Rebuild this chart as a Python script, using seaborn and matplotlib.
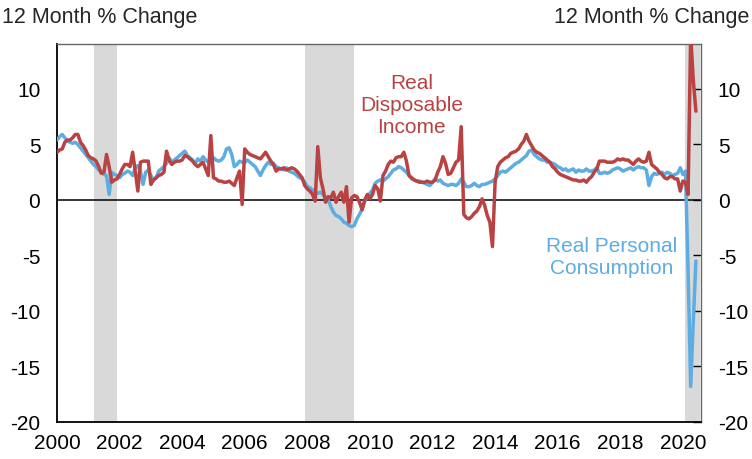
import numpy as np
import pandas as pd
import seaborn as sns
import matplotlib
matplotlib.use("Agg")
import matplotlib.pyplot as plt

# monthly, Jan 2000 .. Jun 2020, 12 month % change
consumption = [
    5.4, 5.7, 5.9, 5.6, 5.3, 5.2, 5.1, 5.2, 5.0, 4.7, 4.4, 4.1,   # 2000
    3.8, 3.5, 3.2, 3.0, 2.7, 2.5, 2.3, 2.2, 0.5, 2.5, 2.3, 2.2,   # 2001
    2.0, 2.3, 2.4, 2.6, 2.5, 2.2, 2.9, 3.1, 2.6, 1.4, 2.5, 2.7,   # 2002
    2.2, 1.8, 2.0, 2.6, 2.8, 3.0, 3.3, 3.8, 3.4, 3.6, 3.8, 4.0,   # 2003
    4.2, 4.4, 4.0, 3.8, 3.6, 3.3, 3.7, 3.5, 3.9, 3.6, 3.4, 3.5,   # 2004
    3.8, 3.6, 3.5, 3.6, 3.9, 4.6, 4.7, 4.1, 3.0, 3.2, 3.5, 3.4,   # 2005
    3.4, 3.6, 3.4, 3.2, 3.0, 2.6, 2.2, 2.7, 3.1, 3.4, 3.2, 3.3,   # 2006
    3.0, 2.9, 2.8, 2.7, 2.9, 2.6, 2.5, 2.4, 2.2, 2.0, 1.9, 1.6,   # 2007
    1.2, 1.1, 0.9, 0.7, 0.6, 0.7, 0.5, 0.2, 0.0, -0.6, -1.1, -1.4,  # 2008
    -1.5, -1.7, -2.0, -2.1, -2.3, -2.4, -2.3, -1.7, -1.3, -0.8, -0.1, 0.3,  # 2009
    0.6, 0.9, 1.5, 1.7, 1.8, 1.7, 1.9, 2.1, 2.4, 2.7, 2.8, 3.0,   # 2010
    2.9, 2.7, 2.5, 2.2, 1.9, 1.8, 1.7, 1.7, 1.6, 1.5, 1.4, 1.3,   # 2011
    1.6, 1.9, 1.7, 1.8, 1.5, 1.4, 1.3, 1.4, 1.4, 1.3, 1.5, 1.9,   # 2012
    1.6, 1.2, 1.2, 1.3, 1.5, 1.3, 1.2, 1.4, 1.4, 1.5, 1.6, 1.7,   # 2013
    1.9, 2.2, 2.5, 2.6, 2.5, 2.7, 2.9, 3.1, 3.3, 3.4, 3.6, 3.8,   # 2014
    4.0, 4.4, 4.5, 4.1, 3.9, 3.7, 3.6, 3.6, 3.4, 3.4, 3.3, 3.2,   # 2015
    3.0, 2.9, 2.7, 2.8, 2.6, 2.7, 2.8, 2.5, 2.7, 2.6, 2.6, 2.8,   # 2016
    2.6, 2.6, 2.7, 2.9, 2.4, 2.4, 2.5, 2.4, 2.5, 2.7, 2.8, 2.9,   # 2017
    2.8, 2.6, 2.7, 2.8, 2.9, 2.7, 2.9, 3.0, 2.9, 2.9, 2.7, 1.3,   # 2018
    2.1, 2.4, 2.3, 2.4, 2.5, 2.3, 2.5, 2.4, 2.2, 2.3, 2.4, 2.9,   # 2019
    2.3, 2.6, -6.3, -16.8, -11.0, -5.5,                           # 2020
]
income = [
    4.3, 4.5, 4.6, 5.2, 5.4, 5.4, 5.6, 5.9, 5.9, 5.2, 4.9, 4.5,   # 2000
    4.0, 3.8, 3.7, 3.5, 3.0, 2.4, 2.5, 4.1, 3.0, 1.6, 1.8, 1.9,   # 2001
    2.3, 2.8, 3.2, 3.2, 3.0, 4.3, 2.6, 0.8, 3.4, 3.5, 3.5, 3.5,   # 2002
    1.4, 1.8, 2.0, 2.2, 2.3, 2.5, 4.4, 3.6, 3.2, 3.4, 3.5, 3.5,   # 2003
    3.6, 4.0, 3.9, 3.7, 3.5, 3.2, 3.0, 3.2, 3.4, 2.8, 2.2, 5.8,   # 2004
    2.0, 1.9, 1.7, 1.7, 1.6, 1.6, 1.7, 1.5, 1.3, 2.0, 2.6, -0.4,  # 2005
    4.6, 4.3, 4.1, 4.0, 3.9, 3.8, 3.7, 4.0, 4.3, 3.9, 3.5, 3.2,   # 2006
    2.6, 2.8, 2.8, 2.9, 2.7, 2.8, 2.9, 2.8, 2.6, 2.3, 2.0, 1.3,   # 2007
    1.0, 0.8, 0.5, -0.1, 4.8, 2.0, 1.0, -0.2, 0.3, 0.2, 0.7, -0.2,  # 2008
    0.3, 0.7, -0.2, 1.2, -2.0, 0.2, 0.4, 0.3, -0.2, -0.9, 0.0, 0.5,  # 2009
    0.1, 0.5, 1.3, 1.0, -0.1, 2.2, 2.6, 3.2, 3.5, 3.4, 3.8, 3.9,  # 2010
    3.9, 4.3, 3.5, 2.2, 2.0, 1.8, 1.7, 1.6, 1.6, 1.6, 1.7, 1.6,   # 2011
    1.6, 1.8, 2.5, 3.0, 3.9, 3.3, 2.3, 2.4, 2.9, 3.4, 3.6, 6.6,   # 2012
    -1.3, -1.6, -1.7, -1.5, -1.2, -1.0, -0.6, 0.1, -0.5, -1.4, -2.0, -4.2,  # 2013
    1.6, 3.0, 3.4, 3.6, 3.8, 3.9, 4.2, 4.3, 4.4, 4.6, 5.0, 5.3,   # 2014
    5.9, 5.3, 4.9, 4.5, 4.3, 4.2, 4.0, 3.8, 3.6, 3.4, 3.0, 2.8,   # 2015
    2.5, 2.3, 2.2, 2.1, 2.0, 1.9, 1.8, 1.8, 1.7, 1.7, 1.8, 1.6,   # 2016
    1.9, 2.1, 2.5, 2.8, 3.5, 3.5, 3.5, 3.4, 3.4, 3.4, 3.5, 3.7,   # 2017
    3.6, 3.7, 3.6, 3.6, 3.4, 3.2, 3.5, 3.7, 3.5, 3.4, 3.5, 4.3,   # 2018
    3.2, 3.0, 2.8, 2.5, 2.3, 2.0, 1.9, 2.1, 2.1, 1.9, 1.9, 0.8,   # 2019
    1.7, 1.6, 0.5, 14.8, 10.8, 8.0,                               # 2020
]
recessions = [(2001.17, 2001.92), (2007.92, 2009.5), (2020.08, 2020.55)]

n = len(consumption)
dates = 2000 + np.arange(n) / 12.0
df = pd.DataFrame({
    "date": np.concatenate([dates, dates]),
    "value": consumption + income,
    "series": ["Consumption"] * n + ["Income"] * n,
})

sns.set_style("white")
plt.rcParams["font.family"] = ["Liberation Sans", "DejaVu Sans"]
plt.rcParams["axes.unicode_minus"] = False

red = "#B94242"
blue = "#5DADE2"

fig = plt.figure(figsize=(7.52, 4.6), dpi=100)
ax = fig.add_axes([57 / 752, 37 / 460, 644 / 752, 378 / 460])

for a, b in recessions:
    ax.axvspan(a, b, color="#D9D9D9", lw=0, zorder=0)
ax.axhline(0, color="black", lw=1.1, zorder=1)

sns.lineplot(data=df, x="date", y="value", hue="series",
             palette={"Consumption": blue, "Income": red},
             linewidth=2.5, legend=False, ax=ax, zorder=3)

ax.set_xlim(2000, 2020.58)
ax.set_ylim(-20, 14.05)
ax.set_xticks(range(2000, 2021, 2))
ax.set_xticks(range(2001, 2021, 2), minor=True)
ax.set_yticks([-20, -15, -10, -5, 0, 5, 10])
ax.set_xlabel("")
ax.set_ylabel("")
ax.tick_params(axis="both", which="both", direction="in", length=6, width=1,
               labelsize=15, colors="black")
ax.tick_params(axis="y", right=True, labelright=True, pad=12)
ax.tick_params(axis="x", pad=8)

for s in ["left", "bottom"]:
    ax.spines[s].set_color("black")
    ax.spines[s].set_linewidth(1.3)
for s in ["top", "right"]:
    ax.spines[s].set_color("#666666")
    ax.spines[s].set_linewidth(1.0)

ax.text(2011.33, 8.6, "Real\nDisposable\nIncome", color=red, fontsize=15,
        ha="center", va="center", linespacing=1.2)
ax.text(2017.73, -5.1, "Real Personal\nConsumption", color=blue, fontsize=15,
        ha="center", va="center", linespacing=1.2)

fig.text(0.002, 0.985, "12 Month % Change", fontsize=15.5, ha="left", va="top")
fig.text(0.997, 0.985, "12 Month % Change", fontsize=15.5, ha="right", va="top")

fig.savefig("out.png", dpi=100)
